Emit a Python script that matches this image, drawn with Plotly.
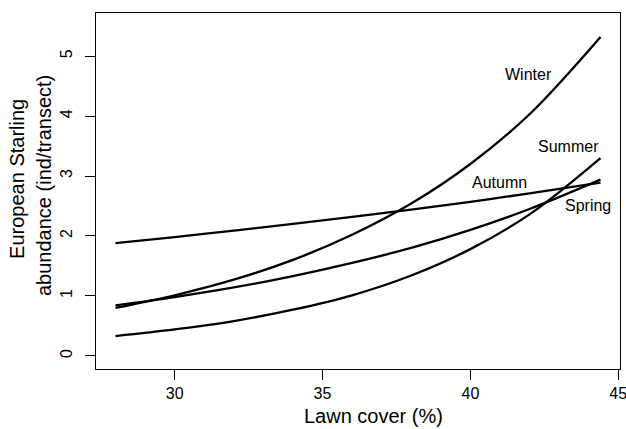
import plotly.graph_objects as go

# Lawn cover (%) values at which the fitted curves were read
lawn_cover = [28, 30, 32, 34, 36, 38, 40, 42, 44.4]

# Fitted abundance (ind/transect) per season
winter = [0.80, 1.01, 1.27, 1.60, 2.02, 2.54, 3.20, 4.03, 5.32]
summer = [0.33, 0.44, 0.58, 0.77, 1.01, 1.34, 1.78, 2.36, 3.30]
spring = [0.84, 0.98, 1.14, 1.33, 1.55, 1.80, 2.10, 2.45, 2.94]
autumn = [1.88, 1.98, 2.09, 2.20, 2.32, 2.44, 2.57, 2.71, 2.89]

season_names = ["Winter", "Summer", "Autumn", "Spring"]
season_series = [winter, summer, autumn, spring]
label_x = [41.96, 43.31, 40.98, 43.99]
label_y = [4.69, 3.50, 2.89, 2.50]

x_ticks = [30, 35, 40, 45]
y_ticks = [0, 1, 2, 3, 4, 5]

FONT = "Liberation Sans, Arial, Helvetica, sans-serif"

fig = go.Figure()
for name, vals in zip(season_names, season_series):
    fig.add_trace(go.Scatter(
        x=lawn_cover, y=vals, mode="lines", name=name,
        line=dict(color="black", width=2.3, shape="spline", smoothing=1.0),
        showlegend=False, hoverinfo="skip",
    ))

for name, lx, ly in zip(season_names, label_x, label_y):
    fig.add_annotation(x=lx, y=ly, text=name, showarrow=False,
                       font=dict(family=FONT, size=16, color="black"),
                       xanchor="center", yanchor="middle")

# Axis titles
fig.add_annotation(xref="paper", yref="paper", x=0, y=0.534, xshift=-79,
                   text="European Starling", textangle=-90, showarrow=False,
                   font=dict(family=FONT, size=20, color="black"),
                   xanchor="center", yanchor="middle")
fig.add_annotation(xref="paper", yref="paper", x=0, y=0.514, xshift=-52,
                   text="abundance (ind/transect)", textangle=-90, showarrow=False,
                   font=dict(family=FONT, size=20, color="black"),
                   xanchor="center", yanchor="middle")
fig.add_annotation(xref="paper", yref="paper", x=0.529, y=0, yshift=-47,
                   text="Lawn cover (%)", showarrow=False,
                   font=dict(family=FONT, size=20, color="black"),
                   xanchor="center", yanchor="middle")

fig.update_layout(
    width=626, height=429,
    margin=dict(l=96, r=6, t=13, b=60, autoexpand=False),
    plot_bgcolor="white", paper_bgcolor="white",
    font=dict(family=FONT, size=16, color="black"),
)
fig.update_xaxes(
    range=[27.34, 45.06], tickmode="array", tickvals=x_ticks,
    ticktext=[str(t) for t in x_ticks],
    showgrid=False, zeroline=False, automargin=False,
    showline=True, linecolor="black", linewidth=1.3, mirror=True,
    ticks="outside", ticklen=10, tickwidth=1.3, tickcolor="black",
    tickfont=dict(family=FONT, size=16, color="black"),
    ticklabelstandoff=0, ticklabeloverflow="allow",
)
fig.update_yaxes(
    range=[-0.22, 5.72], tickmode="array", tickvals=y_ticks,
    ticktext=[str(t) for t in y_ticks],
    showgrid=False, zeroline=False, automargin=False,
    showline=True, linecolor="black", linewidth=1.3, mirror=True,
    ticks="outside", ticklen=10, tickwidth=1.3, tickcolor="black",
    tickfont=dict(family=FONT, size=16, color="black"),
    tickangle=-90, ticklabelstandoff=6,
)

fig.write_html("out.html", config={"displayModeBar": False},
               post_script="document.body.style.margin='0';document.body.style.overflow='hidden';")
